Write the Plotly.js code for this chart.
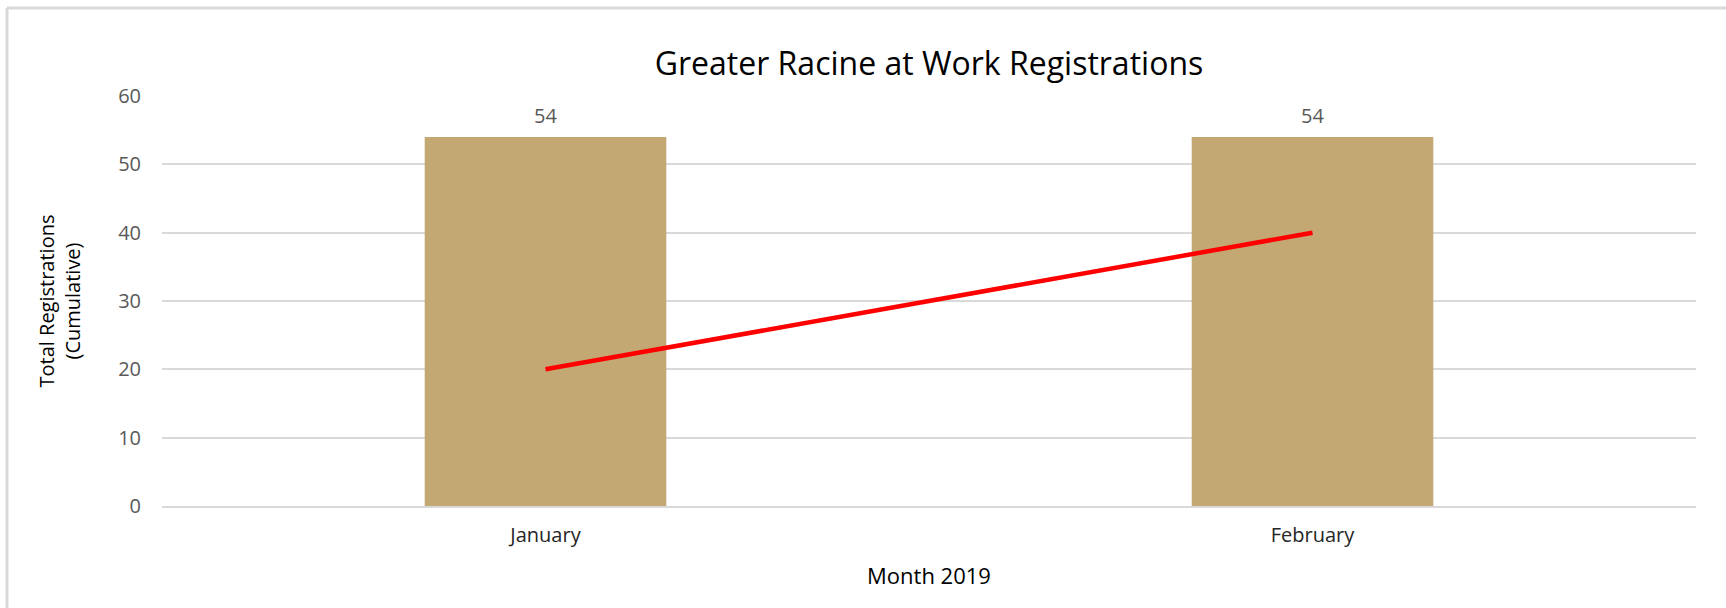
<!DOCTYPE html>
<html>
<head>
<meta charset="utf-8">
<script src="https://cdn.plot.ly/plotly-3.0.1.min.js"></script>
<style>
  html, body { margin: 0; padding: 0; background: #ffffff; }
  #chart { width: 1726px; height: 608px; }
</style>
</head>
<body>
<div id="chart"></div>
<script>
// ---- data ----
const months = ['January', 'February'];
const registrations = [54, 54];
const lineValues = [20, 40];
const yTickVals = [0, 10, 20, 30, 40, 50, 60];

const FONT = 'Open Sans, Noto Sans, sans-serif';

const barTrace = {
  type: 'bar',
  x: months,
  y: registrations,
  width: 0.315,
  marker: { color: '#c4a874', line: { width: 0 } },
  hoverinfo: 'x+y',
  showlegend: false
};

const lineTrace = {
  type: 'scatter',
  mode: 'lines',
  x: months,
  y: lineValues,
  line: { color: '#ff0000', width: 4.5 },
  showlegend: false
};

// data labels above bars, placed through the axes from the data
const labelAnnotations = months.map((m, i) => ({
  x: m, y: registrations[i], xref: 'x', yref: 'y',
  text: String(registrations[i]),
  showarrow: false,
  yanchor: 'middle', xanchor: 'center',
  yshift: 22,
  font: { family: FONT, size: 20, color: '#595959' }
}));

const layout = {
  width: 1726,
  height: 608,
  paper_bgcolor: '#ffffff',
  plot_bgcolor: '#ffffff',
  margin: { l: 162, r: 30, t: 96, b: 102, autoexpand: false },
  font: { family: FONT, color: '#000000' },
  title: {
    text: 'Greater Racine at Work Registrations',
    font: { family: FONT, size: 32, color: '#000000' },
    x: 0.5, xref: 'paper', xanchor: 'center',
    y: 1 - 64 / 608, yref: 'container', yanchor: 'middle'
  },
  xaxis: {
    type: 'category',
    range: [-0.5, 1.5],
    showgrid: false,
    showline: true,
    linecolor: '#d9d9d9',
    linewidth: 2,
    ticks: '',
    ticklabelstandoff: 10,
    tickfont: { family: FONT, size: 20, color: '#262626' },
    title: { text: 'Month 2019', font: { family: FONT, size: 22, color: '#000000' }, standoff: 22 },
    automargin: false
  },
  yaxis: {
    range: [0, 60],
    tickvals: yTickVals,
    showgrid: true,
    gridcolor: '#d9d9d9',
    gridwidth: 2,
    zeroline: false,
    showline: false,
    ticks: '',
    ticklabelstandoff: 20,
    tickfont: { family: FONT, size: 20, color: '#595959' },
    title: { text: 'Total Registrations<br>(Cumulative)', font: { family: FONT, size: 20, color: '#000000' }, standoff: 32 },
    automargin: false
  },
  annotations: labelAnnotations,
  shapes: [
    {
      type: 'line', xref: 'paper', yref: 'paper',
      x0: (7 - 162) / 1534, x1: (1730 - 162) / 1534,
      y0: (506 - 8) / 410, y1: (506 - 8) / 410,
      line: { color: '#d9d9d9', width: 3 }
    },
    {
      type: 'line', xref: 'paper', yref: 'paper',
      x0: (7 - 162) / 1534, x1: (7 - 162) / 1534,
      y0: (506 - 8) / 410, y1: (506 - 620) / 410,
      line: { color: '#d9d9d9', width: 3 }
    }
  ]
};

Plotly.newPlot('chart', [barTrace, lineTrace], layout, { displayModeBar: false, staticPlot: true });
</script>
</body>
</html>
